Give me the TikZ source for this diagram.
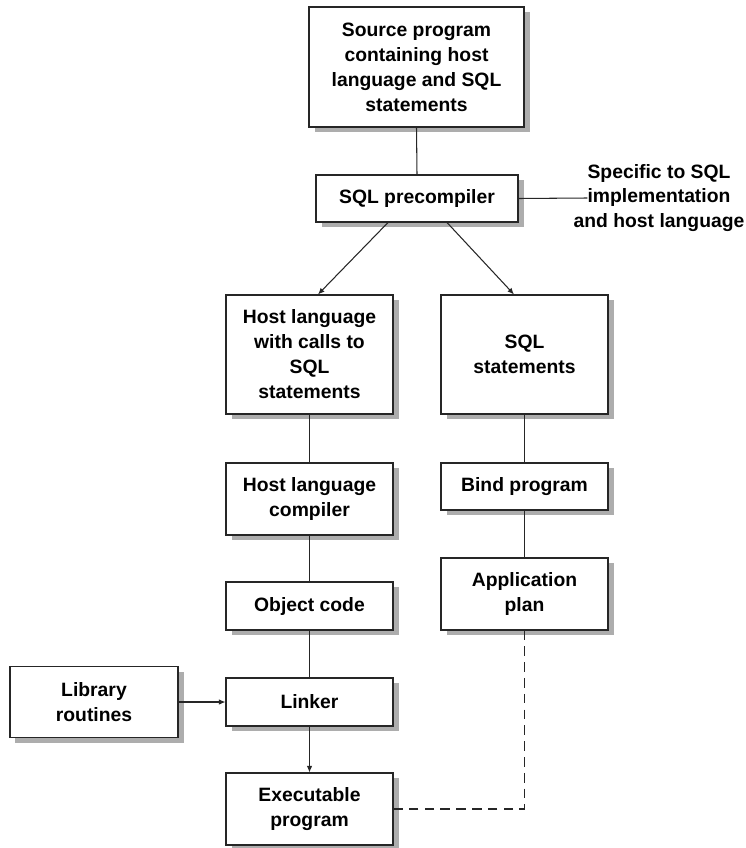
\documentclass[tikz,border=0pt]{standalone}
\usepackage{fontspec}
\setmainfont{Liberation Sans}
\usetikzlibrary{calc,arrows.meta,shadows,positioning}
\tikzset{
myBox/.style={
	rectangle,draw=black!85,fill=white,semithick,
	inner sep=0pt,align=center,
	font=\bfseries\fontsize{11}{14.2}\selectfont,
	drop shadow={shadow xshift=0.11cm,shadow yshift=-0.1cm,fill=black!32,opacity=1}
}
, myText/.style={
	inner sep=0pt,align=center,
	font=\bfseries\fontsize{11}{14.2}\selectfont
}
% link
, myLink/.style={-,draw=black!85,semithick}
, myArrow/.style={-{Latex[length=1.3mm,width=1.1mm]},draw=black!85,semithick}
, myDash/.style={-,draw=black!85,semithick,dash pattern=on 5.5pt off 3.5pt}
}

\begin{document}
\begin{tikzpicture}[x=0.02cm,y=-0.02cm]
	\useasboundingbox (0,0) rectangle (746,848);
	% nodes
	\node[myBox,minimum width=215*0.02cm,minimum height=120*0.02cm] (Source) at (416.5,67)
		{Source program\\containing host\\language and SQL\\statements};
	\node[myBox,minimum width=202*0.02cm,minimum height=47*0.02cm] (Precomp) at (417,198.5)
		{SQL precompiler};
	\node[myText] (Specific) at (659,198)
		{Specific to SQL\\implementation\\and host language};

	% left column
	\node[myBox,minimum width=167*0.02cm,minimum height=119*0.02cm] (HostSQL) at (309.5,354.5)
		{Host language\\with calls to\\SQL\\statements};
	\node[myBox,minimum width=167*0.02cm,minimum height=72*0.02cm] (HostComp) at (309.5,499)
		{Host language\\compiler};
	\node[myBox,minimum width=167*0.02cm,minimum height=48*0.02cm] (Object) at (309.5,606)
		{Object code};
	\node[myBox,minimum width=167*0.02cm,minimum height=48*0.02cm] (Linker) at (309.5,702)
		{Linker};
	\node[myBox,minimum width=167*0.02cm,minimum height=72*0.02cm] (Exec) at (309.5,809)
		{Executable\\program};
	\node[myBox,minimum width=168*0.02cm,minimum height=71*0.02cm] (Library) at (94,702)
		{Library\\routines};

	% right column
	\node[myBox,minimum width=167*0.02cm,minimum height=119*0.02cm] (Statements) at (524.5,354.5)
		{SQL\\statements};
	\node[myBox,minimum width=167*0.02cm,minimum height=47*0.02cm] (Bind) at (524.5,486.5)
		{Bind program};
	\node[myBox,minimum width=167*0.02cm,minimum height=72*0.02cm] (Plan) at (524.5,594)
		{Application\\plan};

	% links
	\draw [myLink] (Source.south) -- (Precomp.north);
	\draw [myLink] (Precomp.east) -- ($(Specific.west)+(14,0)$);
	\draw [myArrow] ($(Precomp.south)+(-29,0)$) -- ($(HostSQL.north)+(8.5,0)$);
	\draw [myArrow] ($(Precomp.south)+(30,0)$) -- ($(Statements.north)+(-10.5,0)$);

	\draw [myLink] (HostSQL.south) -- (HostComp.north);
	\draw [myLink] (HostComp.south) -- (Object.north);
	\draw [myLink] (Object.south) -- (Linker.north);
	\draw [myArrow] (Linker.south) -- (Exec.north);
	\draw [myArrow] (Library.east) -- (Linker.west);

	\draw [myLink] (Statements.south) -- (Bind.north);
	\draw [myLink] (Bind.south) -- (Plan.north);
	\draw [myDash] (Plan.south) |- (Exec.east);
\end{tikzpicture}
\end{document}
